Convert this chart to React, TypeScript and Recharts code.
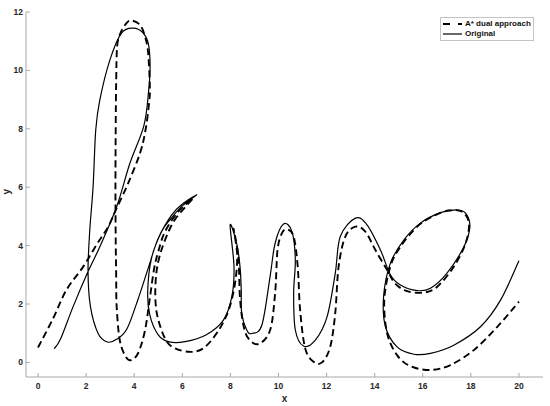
import React from 'react';
import { LineChart, Line, XAxis, YAxis, Legend } from 'recharts';

// "Original" handwriting trace (path order)
const originalX = [0.67, 0.93, 1.46, 2.08, 2.57, 3.27, 3.82, 4.4, 4.6, 4.66, 4.58, 4.35, 3.96, 3.47, 2.99, 2.57, 2.4, 2.29, 2.15, 2.08, 2.18, 2.5, 2.88, 3.27, 3.7, 4.17, 4.58, 5.0, 5.56, 6.0, 6.6, 6.0, 5.5, 5.14, 4.72, 4.56, 4.65, 5.0, 5.42, 6.11, 7.0, 7.71, 8.06, 8.15, 7.99, 8.26, 8.4, 8.45, 8.47, 8.68, 8.89, 9.31, 9.65, 9.86, 10.21, 10.56, 10.7, 10.63, 10.7, 11.04, 11.53, 12.02, 12.36, 12.57, 13.2, 13.68, 14.24, 14.65, 15.07, 15.77, 16.32, 17.0, 17.71, 17.96, 17.78, 17.43, 16.74, 15.9, 15.21, 14.65, 14.37, 14.45, 14.93, 15.63, 16.32, 17.29, 18.4, 19.24, 20.0];
const originalY = [0.47, 0.79, 1.91, 3.11, 3.96, 5.33, 6.82, 8.1, 9.3, 10.2, 10.94, 11.3, 11.45, 11.28, 10.36, 8.99, 7.96, 6.02, 4.5, 3.11, 1.91, 0.99, 0.7, 0.79, 1.15, 2.19, 3.22, 4.25, 5.05, 5.42, 5.74, 5.36, 4.9, 4.48, 3.57, 2.42, 1.62, 0.94, 0.71, 0.71, 0.95, 1.45, 2.25, 3.28, 4.71, 4.08, 3.28, 2.5, 1.68, 1.11, 0.99, 1.28, 2.94, 4.08, 4.74, 4.48, 3.51, 2.37, 1.11, 0.56, 0.76, 1.56, 3.05, 4.31, 4.94, 4.71, 3.85, 3.0, 2.65, 2.46, 2.54, 3.05, 3.96, 4.65, 5.11, 5.22, 5.13, 4.77, 4.19, 3.39, 2.25, 1.22, 0.53, 0.28, 0.31, 0.59, 1.22, 2.14, 3.48];

// "A* dual approach" trace (path order)
const dualX = [0.0, 0.63, 1.18, 1.88, 2.45, 2.92, 3.27, 3.75, 4.24, 4.47, 4.62, 4.65, 4.58, 4.45, 4.24, 3.89, 3.68, 3.43, 3.29, 3.25, 3.23, 3.22, 3.23, 3.25, 3.27, 3.4, 3.65, 3.89, 4.17, 4.45, 4.65, 4.83, 5.0, 5.28, 5.83, 6.45, 6.1, 5.56, 5.07, 4.89, 4.93, 5.28, 5.7, 6.39, 6.95, 7.55, 7.95, 8.2, 8.28, 8.13, 8.33, 8.4, 8.54, 8.75, 9.17, 9.65, 9.86, 9.96, 10.14, 10.35, 10.63, 10.8, 10.9, 11.11, 11.46, 11.81, 12.15, 12.36, 12.5, 12.78, 13.2, 13.61, 14.03, 14.52, 14.85, 15.35, 16.04, 16.6, 17.29, 17.78, 17.92, 17.64, 17.08, 16.46, 15.77, 15.07, 14.65, 14.4, 14.52, 14.93, 15.49, 16.32, 17.15, 18.12, 19.1, 20.0];
const dualY = [0.51, 1.51, 2.48, 3.28, 4.05, 4.65, 5.28, 6.14, 7.16, 7.96, 8.9, 9.45, 10.6, 11.16, 11.56, 11.71, 11.62, 11.28, 10.82, 9.6, 8.0, 6.0, 4.2, 3.0, 1.91, 0.76, 0.19, 0.08, 0.33, 1.1, 2.2, 3.22, 3.79, 4.48, 5.16, 5.62, 5.3, 4.71, 3.68, 2.76, 1.73, 0.82, 0.48, 0.36, 0.53, 1.15, 1.85, 2.75, 3.7, 4.58, 3.6, 2.19, 1.28, 0.82, 0.63, 1.1, 2.37, 3.85, 4.42, 4.56, 4.31, 3.28, 1.79, 0.48, 0.02, 0.0, 0.53, 1.68, 3.28, 4.31, 4.65, 4.48, 3.85, 3.16, 2.7, 2.44, 2.39, 2.59, 3.28, 4.08, 4.77, 5.16, 5.2, 5.02, 4.65, 3.96, 3.28, 2.14, 0.99, 0.25, -0.13, -0.26, -0.09, 0.42, 1.22, 2.08];

const xTicks = [0, 2, 4, 6, 8, 10, 12, 14, 16, 18, 20];
const yTicks = [0, 2, 4, 6, 8, 10, 12];

const originalData = originalX.map((x, i) => ({ x, y: originalY[i] }));
const dualData = dualX.map((x, i) => ({ x, y: dualY[i] }));

// Catmull-Rom curve factory for smooth parametric paths
function catmullRom(context: any) {
  let pts: number[][] = [];
  return {
    areaStart() {},
    areaEnd() {},
    lineStart() {
      pts = [];
    },
    lineEnd() {
      if (!pts.length) return;
      context.moveTo(pts[0][0], pts[0][1]);
      for (let i = 0; i < pts.length - 1; i++) {
        const p0 = pts[Math.max(i - 1, 0)];
        const p1 = pts[i];
        const p2 = pts[i + 1];
        const p3 = pts[Math.min(i + 2, pts.length - 1)];
        context.bezierCurveTo(
          p1[0] + (p2[0] - p0[0]) / 6,
          p1[1] + (p2[1] - p0[1]) / 6,
          p2[0] - (p3[0] - p1[0]) / 6,
          p2[1] - (p3[1] - p1[1]) / 6,
          p2[0],
          p2[1]
        );
      }
    },
    point(x: number, y: number) {
      pts.push([+x, +y]);
    },
  };
}

const FONT = '"Liberation Sans", Arial, Helvetica, sans-serif';
const AXIS = '#a8a8a8';
const tickStyle = { fontSize: 8.5, fontWeight: 700, fill: '#262626', fontFamily: FONT };

const renderLegend = (props: any) => {
  const { payload } = props;
  return (
    <div
      style={{
        border: '1px solid #c4c4c4',
        background: '#fff',
        padding: '1px 2px',
        fontFamily: FONT,
        fontWeight: 700,
        fontSize: 8,
        lineHeight: '10px',
        color: '#111',
        width: 88,
      }}
    >
      {(payload || []).map((entry: any, i: number) => (
        <div key={i} style={{ display: 'flex', alignItems: 'center', height: 10 }}>
          <svg width={20} height={10} style={{ marginRight: 2 }}>
            <line
              x1={0}
              y1={5}
              x2={19}
              y2={5}
              stroke={entry.color}
              strokeWidth={entry.payload && entry.payload.strokeDasharray ? 1.8 : 1.2}
              strokeDasharray={entry.payload && entry.payload.strokeDasharray ? '7 8' : undefined}
            />
          </svg>
          <span style={{ whiteSpace: 'nowrap' }}>{entry.value}</span>
        </div>
      ))}
    </div>
  );
};

export default function App() {
  return (
    <div style={{ position: 'absolute', left: 0, top: 0, width: 550, height: 406, background: '#fff' }}>
      <LineChart width={550} height={406} margin={{ top: 12, right: 7, bottom: 0, left: 0 }}>
        <XAxis
          type="number"
          dataKey="x"
          domain={[-0.5, 21]}
          ticks={xTicks}
          allowDataOverflow
          height={29}
          stroke={AXIS}
          tickSize={-4}
          tickMargin={10}
          tick={tickStyle}
          label={{ value: 'x', position: 'insideBottom', offset: 4, style: { fontSize: 10, fontWeight: 700, fill: '#262626', fontFamily: FONT } }}
        />
        <YAxis
          type="number"
          dataKey="y"
          domain={[-0.5, 12]}
          ticks={yTicks}
          allowDataOverflow
          width={26}
          stroke={AXIS}
          tickSize={-4}
          tickMargin={7}
          tick={tickStyle}
          label={{ value: 'y', angle: -90, position: 'insideLeft', offset: 6, style: { fontSize: 10, fontWeight: 700, fill: '#262626', fontFamily: FONT } }}
        />
        <Legend
          layout="horizontal"
          verticalAlign="middle"
          align="center"
          content={renderLegend}
          wrapperStyle={{ left: 440, top: 17, width: 94, height: 23 }}
        />
        <Line
          data={dualData}
          dataKey="y"
          name="A* dual approach"
          type={catmullRom as any}
          stroke="#000"
          strokeWidth={1.9}
          strokeDasharray="7 4"
          dot={false}
          activeDot={false}
          isAnimationActive={false}
        />
        <Line
          data={originalData}
          dataKey="y"
          name="Original"
          type={catmullRom as any}
          stroke="#000"
          strokeWidth={1.2}
          dot={false}
          activeDot={false}
          isAnimationActive={false}
        />
      </LineChart>
    </div>
  );
}
